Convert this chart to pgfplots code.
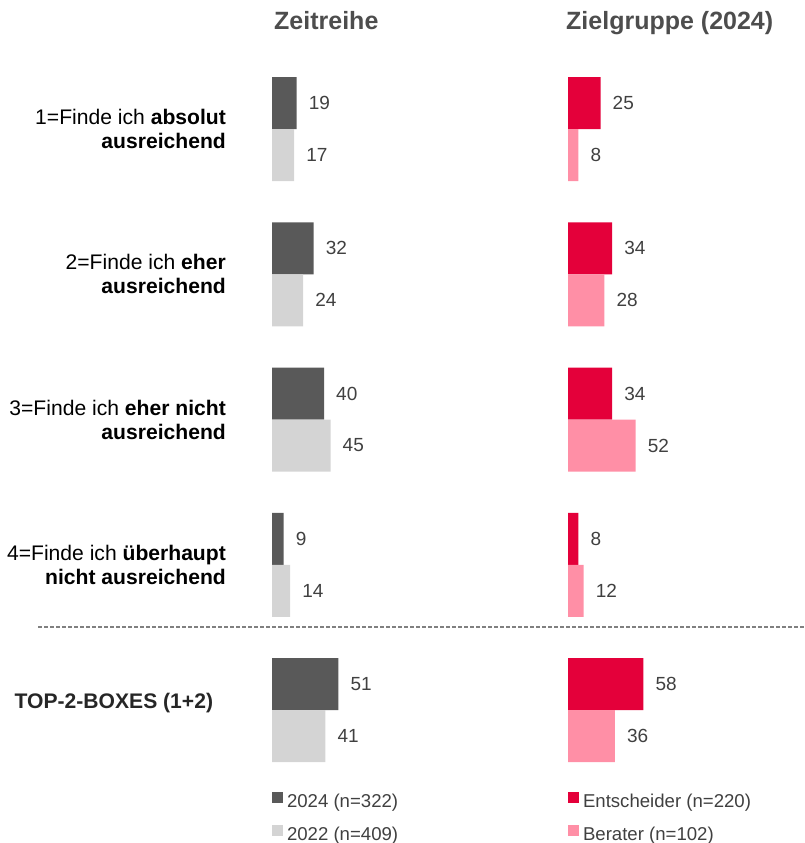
\documentclass[border=0pt]{standalone}
\usepackage{pgfplots}
\pgfplotsset{compat=1.18}
\usepackage{fontspec}
\setmainfont{Liberation Sans}

\definecolor{dark}{HTML}{595959}
\definecolor{light}{HTML}{D4D4D4}
\definecolor{red24}{HTML}{E4003A}
\definecolor{pink24}{HTML}{FF8FA6}
\definecolor{numgray}{HTML}{404040}
\definecolor{titlegray}{HTML}{4D4D4D}

\newcommand\catfont{\fontsize{21.1bp}{24bp}\selectfont}
\newcommand\numfont{\fontsize{19bp}{22bp}\selectfont}
\newcommand\legfont{\fontsize{18.6bp}{21bp}\selectfont}
\newcommand\titfont{\fontsize{25bp}{29bp}\selectfont\bfseries}

\pgfplotsset{
  panel/.style={
    xbar, scale only axis, width=130bp, height=726.25bp,
    xmin=0, xmax=100, ymin=-4.5, ymax=0.5,
    hide axis, clip=false, bar width=52bp,
    anchor=north west,
    nodes near coords,
    nodes near coords style={font=\numfont, text=numgray, anchor=west, inner sep=0pt, xshift=12bp,
      /pgf/number format/assume math mode=true},
    legend image code/.code={\fill[##1] (0bp,0.5bp) rectangle (11bp,11.5bp);},
    legend style={at={(0,0)}, anchor=north west, yshift=-9bp, draw=none, fill=none,
      inner sep=0pt, outer sep=0pt, font=\legfont, text=numgray,
      row sep=13bp, column sep=4bp,
      nodes={inner sep=0pt, text height=13bp, text depth=4bp}},
    legend cell align=left,
  },
}
\tikzset{catlabel/.style={anchor=east, align=right, inner sep=0pt, xshift=-46bp, font=\catfont, text=black}}

\begin{document}
\begin{tikzpicture}
\path[use as bounding box] (0bp,0bp) rectangle (805bp,843bp);

% Zeitreihe
\begin{axis}[panel, at={(272bp,786.6bp)}]
\addplot[fill=dark, draw=none, bar shift=26bp] coordinates {(19,0) (32,-1) (40,-2) (9,-3) (51,-4)};
\addlegendentry{2024 (n=322)}
\addplot[fill=light, draw=none, bar shift=-26bp] coordinates {(17,0) (24,-1) (45,-2) (14,-3) (41,-4)};
\addlegendentry{2022 (n=409)}
\node[catlabel] at (axis cs:0,0) {1=Finde ich \textbf{absolut}\\\textbf{ausreichend}};
\node[catlabel] at (axis cs:0,-1) {2=Finde ich \textbf{eher}\\\textbf{ausreichend}};
\node[catlabel] at (axis cs:0,-2) {3=Finde ich \textbf{eher nicht}\\\textbf{ausreichend}};
\node[catlabel] at (axis cs:0,-3) {4=Finde ich \textbf{überhaupt}\\\textbf{nicht ausreichend}};
\node[anchor=west, inner sep=0pt, xshift=-257.5bp, yshift=7bp, font=\catfont\bfseries, text=black!85]
  at (axis cs:0,-4) {TOP-2-BOXES (1+2)};
\end{axis}

% Zielgruppe
\begin{axis}[panel, at={(568bp,786.6bp)}]
\addplot[fill=red24, draw=none, bar shift=26bp] coordinates {(25,0) (34,-1) (34,-2) (8,-3) (58,-4)};
\addlegendentry{Entscheider (n=220)}
\addplot[fill=pink24, draw=none, bar shift=-26bp] coordinates {(8,0) (28,-1) (52,-2) (12,-3) (36,-4)};
\addlegendentry{Berater (n=102)}
\end{axis}

\node[anchor=base west, inner sep=0pt, font=\titfont, text=titlegray] at (274bp,813bp) {Zeitreihe};
\node[anchor=base west, inner sep=0pt, font=\titfont, text=titlegray] at (566bp,813bp) {Zielgruppe (2024)};
\draw[gray, line width=1.1bp, dash pattern=on 3.5bp off 2.5bp] (38bp,216bp) -- (805bp,216bp);
\end{tikzpicture}
\end{document}
